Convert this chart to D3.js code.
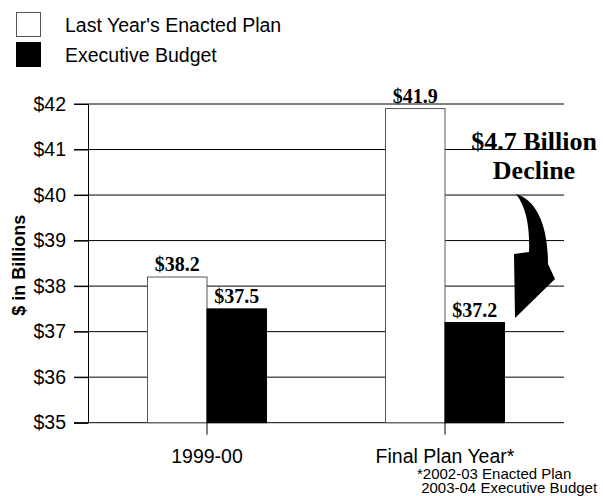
<!DOCTYPE html>
<html>
<head>
<meta charset="utf-8">
<script src="https://cdn.jsdelivr.net/npm/d3@7"></script>
<style>
  body { margin: 0; background: #fff; }
  text { font-family: "Liberation Sans", Arial, sans-serif; fill: #000; }
</style>
</head>
<body>
<div id="chart"></div>
<script>
var categories = ["1999-00", "Final Plan Year*"];
var series = ["Last Year's Enacted Plan", "Executive Budget"];
var enacted = [38.2, 41.9];
var executive = [37.5, 37.2];
var yTicks = [35, 36, 37, 38, 39, 40, 41, 42];
var footnote = ["*2002-03 Enacted Plan", " 2003-04 Executive Budget"];
var callout = ["$4.7 Billion", "Decline"];

function barChart(){

    var w = 603, h = 496;
    var left = 88, right = 564, plotTop = 104, plotBottom = 422.7;

    var svg = d3.select("#chart").append("svg")
        .attr("width", w)
        .attr("height", h);

    var xScale = d3.scaleBand()
        .domain(categories)
        .range([left, right])
        .paddingInner(0.5)
        .paddingOuter(0.25);

    var xSub = d3.scaleBand()
        .domain(series)
        .range([0, xScale.bandwidth()]);

    var yScale = d3.scaleLinear()
        .domain([35, 42])
        .range([plotBottom, plotTop]);

    var colors = d3.scaleOrdinal().domain(series).range(["#fff", "#000"]);

    // gridlines
    svg.append("g").selectAll("line")
        .data(yTicks)
        .enter().append("line")
        .attr("x1", left - 14)
        .attr("x2", right)
        .attr("y1", function(d){ return yScale(d); })
        .attr("y2", function(d){ return yScale(d); })
        .style("stroke", "#000")
        .style("stroke-width", 1);

    // y axis
    var yAxis = d3.axisLeft(yScale)
        .tickValues(yTicks)
        .tickSize(14)
        .tickPadding(8)
        .tickFormat(function(d){ return "$" + d; });

    var gy = svg.append("g")
        .attr("transform", "translate(" + left + ",0)")
        .call(yAxis);
    gy.selectAll("text").style("font-size", "19.5px").attr("font-family", null);
    gy.selectAll("line, path").style("stroke", "#000");

    // bars
    var rows = categories.map(function(c, i){
        return [{cat: c, s: series[0], v: enacted[i]}, {cat: c, s: series[1], v: executive[i]}];
    });

    var groups = svg.append("g").selectAll("g")
        .data(rows)
        .enter().append("g")
        .attr("transform", function(d){ return "translate(" + xScale(d[0].cat) + ",0)"; });

    groups.selectAll("rect")
        .data(function(d){ return d; })
        .enter().append("rect")
        .attr("x", function(d){ return xSub(d.s); })
        .attr("y", function(d){ return yScale(d.v); })
        .attr("width", xSub.bandwidth())
        .attr("height", function(d){ return yScale(35) - yScale(d.v); })
        .style("fill", function(d){ return colors(d.s); })
        .style("stroke", function(d, i){ return i == 0 ? "#555" : "#000"; })
        .style("stroke-width", 1);

    groups.selectAll("text")
        .data(function(d){ return d; })
        .enter().append("text")
        .attr("x", function(d){ return xSub(d.s) + xSub.bandwidth() / 2; })
        .attr("y", function(d){ return yScale(d.v) - 6; })
        .attr("text-anchor", "middle")
        .style("font-family", "'Liberation Serif', 'Times New Roman', serif")
        .style("font-weight", "bold")
        .style("font-size", "20px")
        .text(function(d){ return "$" + d.v.toFixed(1); });

    // x axis
    var xAxis = d3.axisBottom(xScale)
        .tickSize(12)
        .tickSizeOuter(0)
        .tickPadding(14);

    var gx = svg.append("g")
        .attr("transform", "translate(0," + plotBottom + ")")
        .call(xAxis);
    gx.select(".domain").remove();
    gx.selectAll("line").style("stroke", "#000");
    gx.selectAll("text").style("font-size", "19.5px").attr("font-family", null);

    // y axis title
    svg.append("text")
        .attr("transform", "translate(25," + ((plotTop + plotBottom) / 2 + 2) + ") rotate(-90)")
        .attr("text-anchor", "middle")
        .style("font-weight", "bold")
        .style("font-size", "18px")
        .text("$ in Billions");

    // footnote
    svg.append("g").selectAll("text")
        .data(footnote)
        .enter().append("text")
        .attr("x", 417)
        .attr("y", function(d, i){ return 479 + i * 14; })
        .style("font-size", "15px")
        .style("white-space", "pre")
        .text(function(d){ return d; });

    // callout
    svg.append("g").selectAll("text")
        .data(callout)
        .enter().append("text")
        .attr("x", 534)
        .attr("y", function(d, i){ return 150 + i * 29; })
        .attr("text-anchor", "middle")
        .style("font-family", "'Liberation Serif', 'Times New Roman', serif")
        .style("font-weight", "bold")
        .style("font-size", "26px")
        .text(function(d){ return d; });

    // curved arrow
    svg.append("path")
        .attr("d", "M516,194 C536,200 548,224 548,264 L555,279 L515,318 L514,254 L529,252 C530,226 526,207 516,194 Z")
        .style("fill", "#000");

    // legend
    var legend = svg.append("g").selectAll("g")
        .data(series)
        .enter().append("g")
        .attr("transform", function(d, i){ return "translate(0," + (i * 30) + ")"; });

    legend.append("rect")
        .attr("x", 16.5)
        .attr("y", 12.5)
        .attr("width", 24)
        .attr("height", 24)
        .style("fill", function(d){ return colors(d); })
        .style("stroke", function(d, i){ return i == 0 ? "#555" : "#000"; });

    legend.append("text")
        .attr("x", 65)
        .attr("y", 32)
        .style("font-size", "19.5px")
        .text(function(d){ return d; });
}

barChart();
</script>
</body>
</html>
